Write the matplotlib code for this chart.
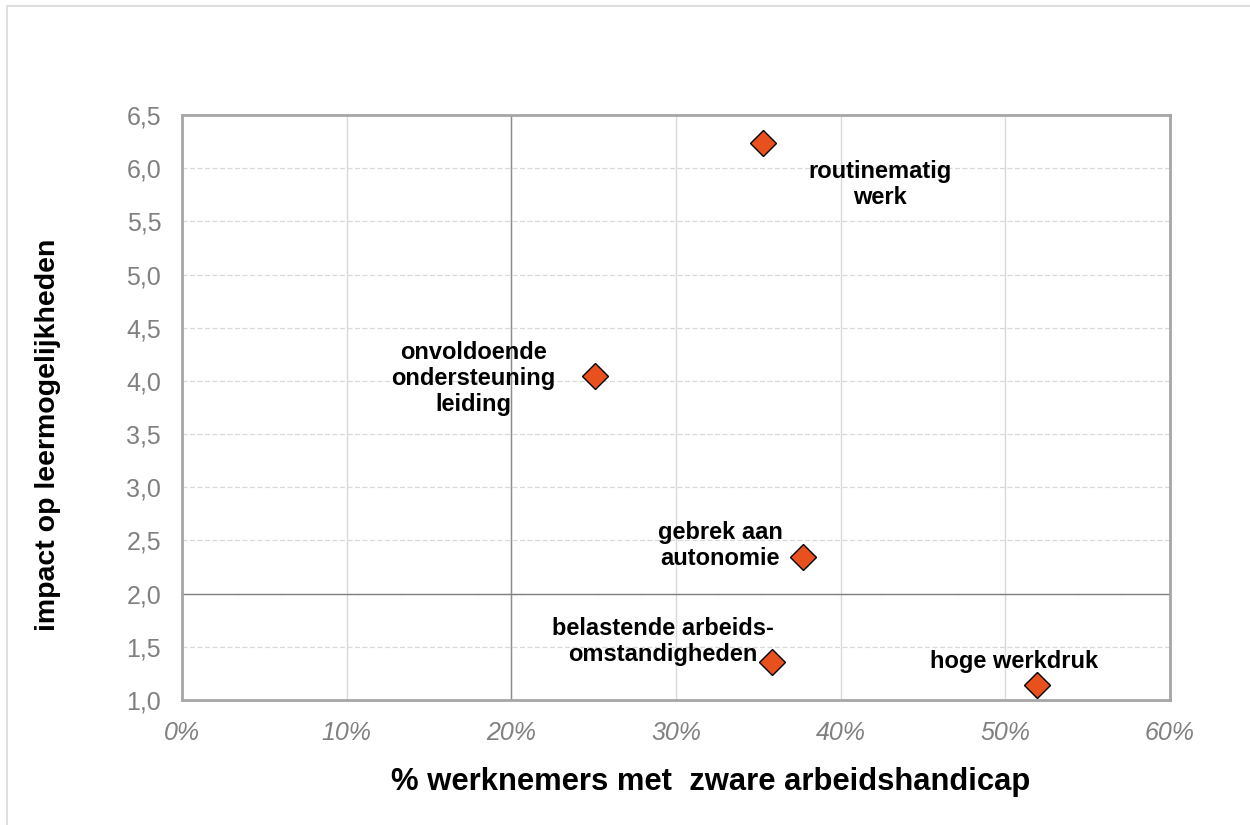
import matplotlib
matplotlib.use("Agg")
import matplotlib.pyplot as plt
from matplotlib.patches import Rectangle
from matplotlib.ticker import FuncFormatter

plt.rcParams['font.family'] = ['Liberation Sans', 'DejaVu Sans']

# Data: share of workers with a severe work disability vs impact on learning
factors = ["routinematig\nwerk",
           "onvoldoende\nondersteuning\nleiding",
           "gebrek aan\nautonomie",
           "belastende arbeids-\nomstandigheden",
           "hoge werkdruk"]
pct_workers = [35.3, 25.1, 37.7, 35.8, 51.9]
impact = [6.24, 4.05, 2.34, 1.36, 1.14]

# Label anchor positions (data coordinates)
label_x = [42.4, 17.7, 32.7, 29.2, 50.5]
label_y = [5.85, 4.02, 2.45, 1.55, 1.36]

x_ticks = [0, 10, 20, 30, 40, 50, 60]
y_ticks = [1.0, 1.5, 2.0, 2.5, 3.0, 3.5, 4.0, 4.5, 5.0, 5.5, 6.0, 6.5]

fig = plt.figure(figsize=(12.5, 8.25), dpi=100)
ax = fig.add_axes([0.1456, 0.1515, 0.7904, 0.7091])

# outer frame of the chart area
fig.patches.append(Rectangle((7 / 1250, -0.05), 1.1, 1 - 6 / 825 + 0.05,
                             transform=fig.transFigure, fill=False,
                             edgecolor='#d9d9d9', linewidth=1.2))

ax.set_xlim(0, 60)
ax.set_ylim(1.0, 6.5)
ax.set_xticks(x_ticks)
ax.set_yticks(y_ticks)
ax.xaxis.set_major_formatter(FuncFormatter(lambda v, p: f"{v:.0f}%"))
ax.yaxis.set_major_formatter(FuncFormatter(lambda v, p: f"{v:.1f}".replace('.', ',')))

ax.tick_params(axis='both', length=0, labelsize=18, labelcolor='#808080')
ax.tick_params(axis='x', pad=15)
ax.tick_params(axis='y', pad=15)
for lab in ax.get_xticklabels():
    lab.set_style('italic')

# grid
ax.set_axisbelow(True)
ax.xaxis.grid(True, color='#d9d9d9', linewidth=1.0, linestyle='-')
ax.yaxis.grid(True, color='#d9d9d9', linewidth=0.9, linestyle=(0, (4, 2)))

# reference lines
ax.axvline(20, color='#8c8c8c', linewidth=1.0, zorder=1.5)
ax.axhline(2.0, color='#7f7f7f', linewidth=1.0, zorder=1.5)

for s in ax.spines.values():
    s.set_color('#a6a6a6')
    s.set_linewidth(2.0)

ax.plot(pct_workers, impact, linestyle='none', marker='D', markersize=13,
        markerfacecolor='#E8501E', markeredgecolor='#000000',
        markeredgewidth=1.0, zorder=3, clip_on=False)

for txt, lx, ly in zip(factors, label_x, label_y):
    ax.text(lx, ly, txt, ha='center', va='center', fontsize=17,
            fontweight='bold', color='black', linespacing=1.17, zorder=4)

ax.set_xlabel("% werknemers met  zware arbeidshandicap", fontsize=22.3,
              fontweight='bold', color='black')
ax.set_ylabel("impact op leermogelijkheden", fontsize=20.5,
              fontweight='bold', color='black')
ax.xaxis.set_label_coords(0.535, -0.14)
ax.yaxis.set_label_coords(-0.136, 0.453)
ax.xaxis.label.set_va('center')
ax.yaxis.label.set_va('center')

fig.savefig("out.png", dpi=100)
